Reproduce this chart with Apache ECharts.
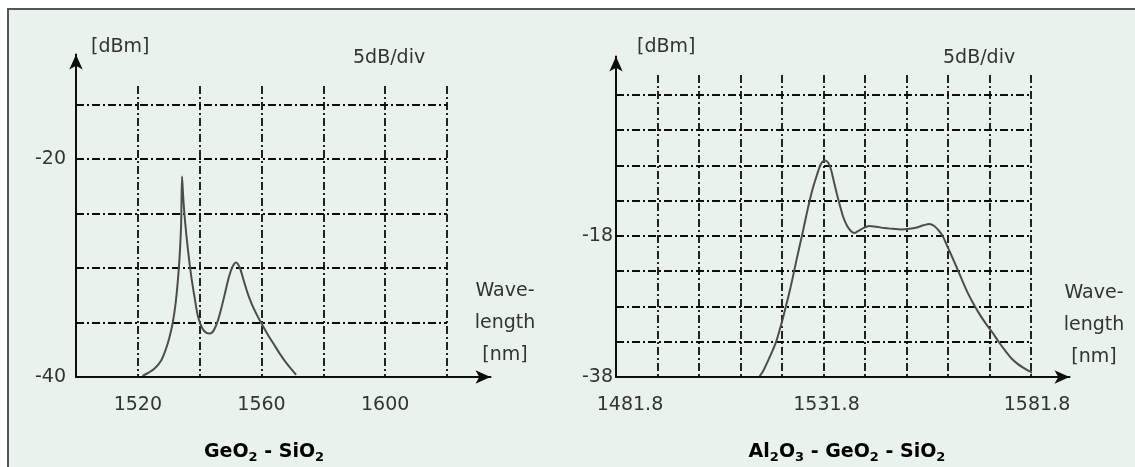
<!DOCTYPE html>
<html>
<head>
<meta charset="utf-8">
<title>Fibre ASE spectra</title>
<script src="https://cdn.jsdelivr.net/npm/echarts@6/dist/echarts.min.js"></script>
<style>
  html, body { margin: 0; padding: 0; background: #ffffff; }
  #chart { width: 1135px; height: 467px; }
</style>
</head>
<body>
<div id="chart"></div>
<script>
// GeO2 - SiO2 fibre: wavelength [nm] and power [dBm]
const geoWavelength = [1521.5, 1523.5, 1525.5, 1527.5, 1529.0, 1530.2, 1531.3, 1532.2, 1532.9, 1533.5, 1534.0,
  1534.3, 1534.7, 1535.3, 1536.2, 1537.2, 1538.3, 1539.5, 1540.8, 1542.2, 1543.4, 1544.6, 1545.8, 1547.0,
  1548.2, 1549.4, 1550.6, 1551.8, 1553.0, 1554.2, 1555.5, 1557.0, 1558.5, 1560.0, 1562.0, 1564.0, 1566.0,
  1568.0, 1570.0, 1571.2];
const geoPower = [-39.9, -39.6, -39.2, -38.5, -37.5, -36.4, -35.0, -33.3, -31.3, -29.0, -26.0,
  -21.6, -23.6, -25.8, -28.3, -30.6, -32.6, -34.5, -35.5, -35.95, -36.0, -35.7, -34.9, -33.7,
  -32.3, -30.9, -29.9, -29.5, -30.0, -31.1, -32.3, -33.4, -34.3, -35.1, -36.1, -37.0, -37.9,
  -38.7, -39.4, -39.8];

// Al2O3 - GeO2 - SiO2 fibre: wavelength [nm] and power [dBm]
const alWavelength = [1516.3, 1517.4, 1518.5, 1519.5, 1520.5, 1521.3, 1522.1, 1522.9, 1523.7, 1524.5, 1525.3,
  1526.1, 1526.9, 1527.7, 1528.5, 1529.4, 1530.2, 1530.9, 1531.5, 1532.2, 1532.9, 1533.6, 1534.3, 1535.0,
  1535.8, 1536.6, 1537.5, 1538.4, 1539.2, 1540.2, 1541.4, 1542.8, 1544.5, 1546.5, 1548.5, 1550.5, 1552.5,
  1554.3, 1555.9, 1557.3, 1558.5, 1559.5, 1560.5, 1561.5, 1562.5, 1563.7, 1565.0, 1566.5, 1568.0, 1569.5,
  1571.0, 1572.5, 1574.0, 1575.5, 1577.0, 1578.5, 1580.0, 1581.5, 1583.0, 1584.5];
const alPower = [-38.0, -37.0, -35.6, -34.3, -32.8, -31.2, -29.5, -27.6, -25.7, -23.6, -21.4,
  -19.3, -17.2, -15.0, -12.9, -10.9, -9.4, -8.2, -7.5, -7.3, -7.6, -8.6, -10.3, -12.0,
  -13.8, -15.4, -16.6, -17.3, -17.6, -17.3, -16.9, -16.6, -16.7, -16.9, -17.0, -17.1, -17.0,
  -16.8, -16.5, -16.3, -16.6, -17.2, -18.0, -19.3, -20.6, -22.2, -24.0, -26.0, -27.7, -29.2,
  -30.5, -31.7, -33.0, -34.2, -35.3, -36.1, -36.7, -37.2, -37.7, -38.0];

// labelled ticks
const geoXTicks = [1520, 1560, 1600];
const geoYTicks = [-40, -20];
const alXTicks = [1481.8, 1531.8, 1581.8];
const alYTicks = [-38, -18];

const FONT = 'DejaVu Sans';
const TEXT = '#333333';
const INK = '#0d0d0d';
const CURVE = '#4d4d4d';
const gridDash = { color: INK, width: 1.8, type: [8, 3, 2, 3] };

function pickLabels(list, digits, richPrefix) {
  return function (v) {
    const i = list.findIndex(function (t) { return Math.abs(t - v) < 1e-6; });
    if (i < 0) return '';
    const s = list[i].toFixed(digits);
    return richPrefix ? '{' + richPrefix + i + '|' + s + '}' : s;
  };
}

function zip(xs, ys) {
  return xs.map(function (x, i) { return [x, ys[i]]; });
}

// axis pair with arrow heads (no ticks, no labels)
function arrowAxis(gridIndex) {
  return {
    gridIndex: gridIndex, type: 'value', min: 0, max: 1, z: 5,
    axisLine: { show: true, onZero: false, symbol: ['none', 'arrow'], symbolSize: [10, 15],
      lineStyle: { color: INK, width: 2 } },
    axisTick: { show: false }, axisLabel: { show: false }, splitLine: { show: false }
  };
}

function labelStyle(extra) {
  return Object.assign({ color: TEXT, fontFamily: FONT, fontSize: 19 }, extra);
}

const plainText = { fill: TEXT, fontFamily: FONT, fontSize: 19 };

function text(x, y, str, align, extra) {
  return {
    type: 'text', x: x, y: y, silent: true, z: 20,
    style: Object.assign({ text: str, align: align, verticalAlign: 'middle',
      textAlign: align, textVerticalAlign: 'middle' }, plainText, extra || {})
  };
}

function formula(x, y, rich) {
  return {
    type: 'text', x: x, y: y, silent: true, z: 20,
    style: {
      text: rich, align: 'center', verticalAlign: 'middle', textAlign: 'center', textVerticalAlign: 'middle',
      rich: {
        m: { fontFamily: FONT, fontSize: 19, fontWeight: 'bold', color: TEXT, lineHeight: 24 },
        s: { fontFamily: FONT, fontSize: 13, fontWeight: 'bold', color: TEXT, lineHeight: 14, verticalAlign: 'bottom' }
      }
    }
  };
}

const chart = echarts.init(document.getElementById('chart'), null, { renderer: 'canvas' });

chart.setOption({
  animation: false,
  backgroundColor: '#e9f3ec',
  grid: [
    { left: 76, top: 54.5, right: 644.5, bottom: 90 },   // left arrows
    { left: 76, top: 86, right: 688, bottom: 90 },       // left plot
    { left: 616, top: 56.5, right: 65.5, bottom: 90 },   // right arrows
    { left: 616, top: 75, right: 104, bottom: 90 }       // right plot
  ],
  xAxis: [
    arrowAxis(0),
    {
      gridIndex: 1, type: 'value', min: 1500, max: 1620, interval: 20,
      axisLine: { show: false }, axisTick: { show: false },
      axisLabel: labelStyle({ margin: 19, formatter: pickLabels(geoXTicks, 0) }),
      splitLine: { show: true, showMinLine: false, lineStyle: gridDash }
    },
    arrowAxis(2),
    {
      gridIndex: 3, type: 'value', min: 1481.8, max: 1581.8, interval: 10,
      axisLine: { show: false }, axisTick: { show: false },
      axisLabel: labelStyle({
        margin: 19, formatter: pickLabels(alXTicks, 1, 't'),
        rich: {
          t0: { padding: [0, 0, 0, 28] },
          t1: { padding: [0, 0, 0, 6] },
          t2: { padding: [0, 0, 0, 12] }
        }
      }),
      splitLine: { show: true, showMinLine: false, lineStyle: gridDash }
    }
  ],
  yAxis: [
    arrowAxis(0),
    {
      gridIndex: 1, type: 'value', min: -40, max: -13.3, interval: 5,
      axisLine: { show: false }, axisTick: { show: false },
      axisLabel: labelStyle({ margin: 10, formatter: pickLabels(geoYTicks, 0) }),
      splitLine: { show: true, showMinLine: false, showMaxLine: false, lineStyle: gridDash }
    },
    arrowAxis(2),
    {
      gridIndex: 3, type: 'value', min: -38, max: 4.8, interval: 5,
      axisLine: { show: false }, axisTick: { show: false },
      axisLabel: labelStyle({ margin: 3, formatter: pickLabels(alYTicks, 0) }),
      splitLine: { show: true, showMinLine: false, showMaxLine: false, lineStyle: gridDash }
    }
  ],
  series: [
    {
      name: 'GeO2 - SiO2', type: 'line', xAxisIndex: 1, yAxisIndex: 1,
      data: zip(geoWavelength, geoPower), smooth: 0.3,
      showSymbol: false, z: 4, clip: false,
      lineStyle: { color: CURVE, width: 2 }
    },
    {
      name: 'Al2O3 - GeO2 - SiO2', type: 'line', xAxisIndex: 3, yAxisIndex: 3,
      data: zip(alWavelength, alPower), smooth: 0.3,
      showSymbol: false, z: 4, clip: false,
      lineStyle: { color: CURVE, width: 2 }
    }
  ],
  graphic: [
    // page margin and frame
    { type: 'rect', silent: true, z: 30, shape: { x: 0, y: 0, width: 1135, height: 8 }, style: { fill: '#ffffff' } },
    { type: 'rect', silent: true, z: 30, shape: { x: 0, y: 0, width: 7, height: 467 }, style: { fill: '#ffffff' } },
    { type: 'polyline', silent: true, z: 31, shape: { points: [[8, 467], [8, 9], [1135, 9]] },
      style: { stroke: '#555555', lineWidth: 2, fill: null } },

    // left panel texts
    text(91, 47, '[dBm]', 'left'),
    text(353, 58, '5dB/div', 'left'),
    text(505, 323, 'Wave-\nlength\n[nm]', 'center', { lineHeight: 32 }),
    formula(264, 452, '{m|GeO}{s|2}{m| - SiO}{s|2}'),

    // right panel texts
    text(637, 47, '[dBm]', 'left'),
    text(943, 58, '5dB/div', 'left'),
    text(1094, 325, 'Wave-\nlength\n[nm]', 'center', { lineHeight: 32 }),
    formula(847, 452, '{m|Al}{s|2}{m|O}{s|3}{m| - GeO}{s|2}{m| - SiO}{s|2}')
  ]
});
</script>
</body>
</html>
